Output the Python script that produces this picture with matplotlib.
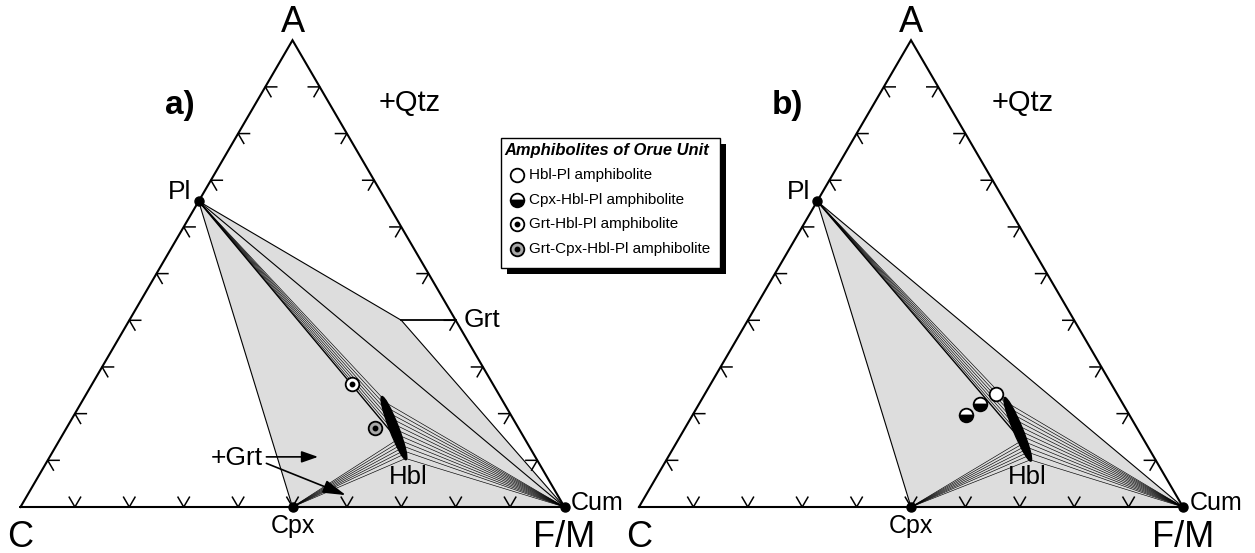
"""
ACF(M) ternary diagrams for the amphibolites of the Orue Unit.

Two panels: a) with garnet in the assemblage, b) without it.
Compositions are given as (A, C, F/M) fractions and converted to
Cartesian coordinates of an equilateral triangle with side 1.
"""

import numpy as np
import matplotlib.pyplot as plt
from matplotlib.patches import Polygon, Ellipse, Rectangle

plt.rcParams["font.family"] = ["Liberation Sans", "DejaVu Sans"]

SQ3 = np.sqrt(3) / 2

# phase compositions (A, C, F/M)
PL = (0.655, 0.345, 0.0)
CPX = (0.0, 0.5, 0.5)
CUM = (0.0, 0.0, 1.0)
GRT = (0.40, 0.10, 0.50)

# hornblende compositional field (ends of the lens)
HBL_TOP_A = (0.234, 0.218, 0.548)
HBL_BOT_A = (0.104, 0.240, 0.656)
HBL_TOP_B = (0.232, 0.211, 0.557)
HBL_BOT_B = (0.101, 0.230, 0.669)

# tie lines: positions along the hornblende lens (0 = top, 1 = bottom)
PL_TIES = [0.0, 0.12, 0.24, 0.36, 0.48, 0.6, 0.72]
CUM_TIES = [0.06, 0.15, 0.24, 0.33, 0.42, 0.51, 0.6, 0.69, 0.78, 0.87, 1.0]
CPX_TIES = [0.68, 0.73, 0.78, 0.83, 0.88, 0.93, 1.0]

# sample compositions (A, C, F/M)
GRT_HBL_PL = [(0.264, 0.258, 0.478)]
GRT_CPX_HBL_PL = [(0.170, 0.264, 0.566)]
HBL_PL = [(0.242, 0.223, 0.535)]
CPX_HBL_PL = [(0.221, 0.262, 0.517), (0.198, 0.300, 0.502)]

TICK_STEPS = [0.1, 0.2, 0.3, 0.4, 0.5, 0.6, 0.7, 0.8, 0.9]

SHADE = "#dddddd"
GREY_FILL = "#a8a8a8"


def tern(p):
    a, c, fm = p
    return fm + a / 2, a * SQ3


def lens_point(top, bot, f):
    x0, y0 = tern(top)
    x1, y1 = tern(bot)
    return x0 + f * (x1 - x0), y0 + f * (y1 - y0)


def draw_frame(ax):
    ax.plot([0, 1, 0.5, 0], [0, 0, SQ3, 0], color="black", lw=1.5,
            solid_joinstyle="miter", zorder=5)
    L = 0.021
    for t in TICK_STEPS:
        # C-A edge
        x, y = 0.5 * t, SQ3 * t
        ax.plot([x + L, x, x + 0.5 * L], [y, y, y - SQ3 * L],
                color="black", lw=1.1, zorder=5)
        # F/M-A edge
        x, y = 1 - 0.5 * t, SQ3 * t
        ax.plot([x - L, x, x - 0.5 * L], [y, y, y - SQ3 * L],
                color="black", lw=1.1, zorder=5)
        # C-F/M edge
        x, y = t, 0.0
        ax.plot([x - 0.5 * L, x, x + 0.5 * L], [SQ3 * L, y, SQ3 * L],
                color="black", lw=1.1, zorder=5)


def draw_ties(ax, top, bot):
    for src, fracs in ((PL, PL_TIES), (CUM, CUM_TIES), (CPX, CPX_TIES)):
        sx, sy = tern(src)
        for f in fracs:
            ex, ey = lens_point(top, bot, f)
            lw = 1.0 if (src is PL and f == fracs[-1]) else 0.45
            ax.plot([sx, ex], [sy, ey], color="black", lw=lw, zorder=3)
    x0, y0 = tern(top)
    x1, y1 = tern(bot)
    length = np.hypot(x1 - x0, y1 - y0)
    ang = np.degrees(np.arctan2(y1 - y0, x1 - x0))
    ax.add_patch(Ellipse(((x0 + x1) / 2, (y0 + y1) / 2), length * 1.04, 0.017,
                         angle=ang, facecolor="black", edgecolor="black",
                         zorder=4))


def draw_labels(ax, tag, tag_x, qtz_x):
    big = dict(fontsize=26, ha="center", va="center")
    ax.text(0.5, 0.898, "A", **big)
    ax.text(0.0, -0.056, "C", **big)
    ax.text(1.0, -0.056, "F/M", **big)
    ax.text(0.314, 0.585, "Pl", fontsize=19, ha="right", va="center")
    ax.text(0.5, -0.035, "Cpx", fontsize=18, ha="center", va="center")
    ax.text(1.012, 0.008, "Cum", fontsize=18, ha="left", va="center")
    ax.text(0.713, 0.056, "Hbl", fontsize=18.5, ha="center", va="center")
    ax.text(tag_x, 0.745, tag, fontsize=24, fontweight="bold",
            ha="center", va="center")
    ax.text(qtz_x, 0.750, "+Qtz", fontsize=21, ha="center", va="center")
    for p in (PL, CPX, CUM):
        x, y = tern(p)
        ax.plot(x, y, "o", color="black", ms=6.5, zorder=7)


def circle(ax, pts, fc, dot=False, **kw):
    xs, ys = zip(*[tern(p) for p in pts])
    ax.plot(xs, ys, "o", ms=9.8, mfc=fc, mec="black", mew=1.3, zorder=8, **kw)
    if dot:
        ax.plot(xs, ys, "o", ms=3.2, color="black", zorder=9)


fig = plt.figure(figsize=(12.55, 5.53), dpi=100)
W, H = 1255.0, 553.0
SX, SY = 544.0, 539.0
BASE = 507.0


def panel(left_px, c_px):
    ax = fig.add_axes([left_px / W, 0, 627.5 / W, 1])
    xmin = -(c_px - left_px) / SX
    ax.set_xlim(xmin, xmin + 627.5 / SX)
    ymin = -(H - BASE) / SY
    ax.set_ylim(ymin, ymin + H / SY)
    ax.axis("off")
    return ax


# ---- panel a ----
ax = panel(0.0, 20.5)
ax.add_patch(Polygon([tern(PL), tern(GRT), tern(CUM), tern(CPX)],
                     closed=True, facecolor=SHADE, edgecolor="black", lw=0.8,
                     zorder=1))
ax.plot(*zip(tern(PL), tern(CUM)), color="black", lw=0.8, zorder=2)
gx, gy = tern(GRT)
ax.plot([gx, 1 - gy / SQ3 * 0.5], [gy, gy], color="black", lw=1.3, zorder=5)
ax.text(0.815, gy, "Grt", fontsize=19, ha="left", va="center")
draw_ties(ax, HBL_TOP_A, HBL_BOT_A)
draw_frame(ax)
draw_labels(ax, "a)", 0.293, 0.715)
circle(ax, GRT_HBL_PL, "white", dot=True)
circle(ax, GRT_CPX_HBL_PL, GREY_FILL, dot=True)
ax.text(0.446, 0.090, "+Grt", fontsize=19, ha="right", va="center")
arrow = dict(arrowstyle="-|>,head_length=1.0,head_width=0.35", color="black",
             lw=1.2, shrinkA=0, shrinkB=0)
ax.annotate("", xy=(0.547, 0.093), xytext=(0.452, 0.093),
            arrowprops=arrow, zorder=9)
ax.annotate("", xy=(0.598, 0.022), xytext=(0.452, 0.081),
            arrowprops=dict(arrow, arrowstyle="-|>,head_length=1.4,head_width=0.4"),
            zorder=9)

# ---- panel b ----
ax = panel(627.5, 639.0)
ax.add_patch(Polygon([tern(PL), tern(CUM), tern(CPX)], closed=True,
                     facecolor=SHADE, edgecolor="black", lw=0.8, zorder=1))
draw_ties(ax, HBL_TOP_B, HBL_BOT_B)
draw_frame(ax)
draw_labels(ax, "b)", 0.272, 0.705)
circle(ax, HBL_PL, "white")
circle(ax, CPX_HBL_PL, "black", fillstyle="bottom", markerfacecoloralt="white")

# ---- legend box ----
lg = fig.add_axes([0, 0, 1, 1])
lg.set_xlim(0, W)
lg.set_ylim(H, 0)
lg.axis("off")
lg.add_patch(Rectangle((507, 144), 219, 130, facecolor="black", zorder=1))
lg.add_patch(Rectangle((501, 138), 219, 130, facecolor="white",
                       edgecolor="black", lw=1.0, zorder=2))
lg.text(504, 151, "Amphibolites of Orue Unit", fontsize=11.9,
        fontweight="bold", fontstyle="italic", ha="left", va="center", zorder=3)
entries = [
    ("Hbl-Pl amphibolite", dict(mfc="white")),
    ("Cpx-Hbl-Pl amphibolite", dict(mfc="black", fillstyle="bottom",
                                   markerfacecoloralt="white")),
    ("Grt-Hbl-Pl amphibolite", dict(mfc="white")),
    ("Grt-Cpx-Hbl-Pl amphibolite", dict(mfc=GREY_FILL)),
]
for i, (label, style) in enumerate(entries):
    y = 175 + 24.7 * i
    lg.plot(516.5, y, "o", ms=9.8, mec="black", mew=1.3, zorder=3, **style)
    if i >= 2:
        lg.plot(516.5, y, "o", ms=3.2, color="black", zorder=4)
    lg.text(529, y, label, fontsize=11, ha="left", va="center", zorder=3)

fig.savefig("out.png", dpi=100)
